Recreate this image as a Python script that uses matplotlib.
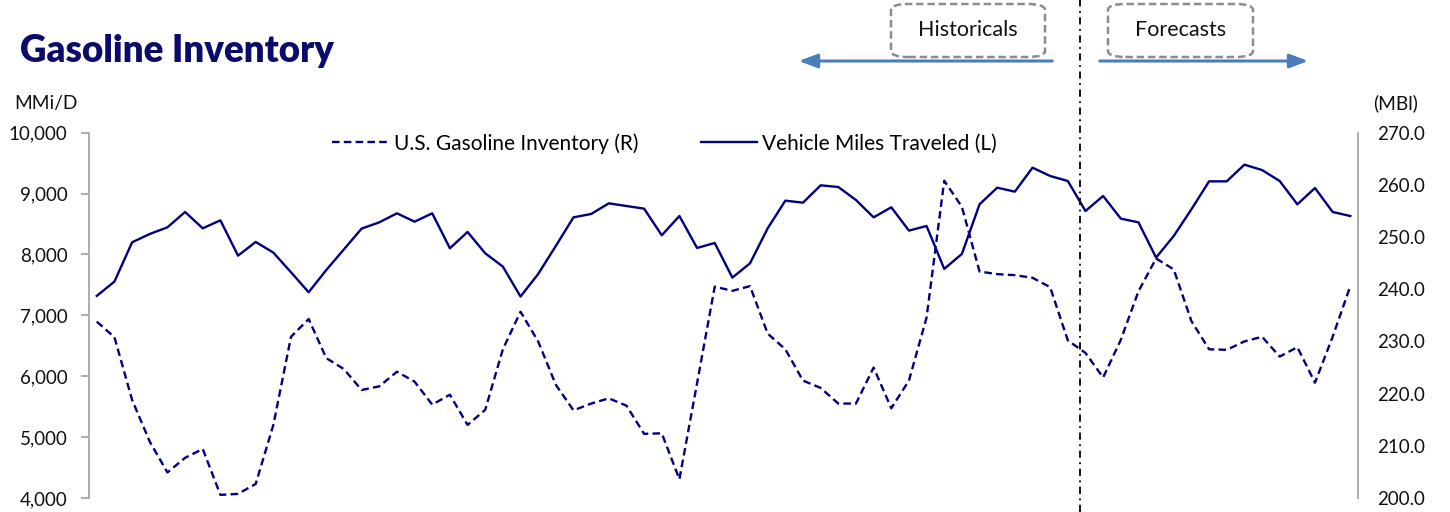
import matplotlib.pyplot as plt
from matplotlib.patches import FancyBboxPatch, FancyArrowPatch
from matplotlib.ticker import FuncFormatter
import matplotlib.transforms as mtransforms

plt.rcParams['font.family'] = ['Lato', 'DejaVu Sans']

# monthly points, 6 years
vmt = [7320, 7555, 8200, 8337, 8446, 8698, 8430, 8561, 7981, 8206,
       8031, 7708, 7380, 7746, 8085, 8425, 8528, 8676, 8539, 8676,
       8102, 8370, 8020, 7801, 7309, 7680, 8140, 8610, 8665, 8840,
       8796, 8753, 8315, 8632, 8107, 8189, 7620, 7856, 8430, 8884,
       8851, 9136, 9108, 8895, 8610, 8775, 8392, 8468, 7763, 8009,
       8824, 9097, 9032, 9426, 9289, 9207, 8714, 8961, 8589, 8528,
       7949, 8304, 8742, 9201, 9201, 9475, 9387, 9207, 8824, 9092,
       8698, 8632]
inventory = [233.8, 230.8, 218.8, 210.8, 204.9, 207.7, 209.4, 200.6, 200.8, 202.7,
             214.0, 230.9, 234.3, 226.8, 224.7, 220.7, 221.4, 224.2, 222.3, 217.9,
             219.8, 214.0, 216.9, 228.5, 235.7, 230.0, 221.7, 216.8, 218.1, 219.1,
             217.7, 212.3, 212.4, 203.6, 222.0, 240.5, 239.7, 240.6, 231.5, 228.5,
             222.5, 221.1, 218.1, 218.1, 225.0, 217.2, 222.5, 234.6, 260.8, 255.8,
             243.4, 242.9, 242.7, 242.2, 240.4, 230.2, 227.8, 223.1, 230.3, 239.6,
             245.9, 243.8, 233.9, 228.5, 228.4, 230.0, 230.9, 227.1, 228.9, 222.1,
             230.9, 240.6]
x = list(range(len(vmt)))
split_x = 55.7  # historicals / forecasts boundary

navy = '#00007f'
spine_gray = '#a6a6a6'

fig = plt.figure(figsize=(14.5, 5.12), dpi=100)
ax = fig.add_axes([0.0614, 0.0273, 0.8752, 0.7135])
ax2 = ax.twinx()

l2, = ax2.plot(x, inventory, color=navy, lw=1.7, ls=(0, (3.2, 1.8)),
               label='U.S. Gasoline Inventory (R)')
l1, = ax.plot(x, vmt, color=navy, lw=1.7, label='Vehicle Miles Traveled (L)')

ax.set_xlim(-0.44, 71.44)
ax.set_ylim(4000, 10000)
ax.set_yticks(range(4000, 10001, 1000))
ax.yaxis.set_major_formatter(FuncFormatter(lambda v, p: f'{v:,.0f}'))
ax2.set_ylim(200, 270)
ax2.set_yticks(range(200, 271, 10))
ax2.yaxis.set_major_formatter(FuncFormatter(lambda v, p: f'{v:.1f}'))

for a in (ax, ax2):
    for s in ('top', 'bottom'):
        a.spines[s].set_visible(False)
    a.set_xticks([])
ax.spines['right'].set_visible(False)
ax2.spines['left'].set_visible(False)
ax.spines['left'].set_color(spine_gray)
ax.spines['left'].set_linewidth(1.3)
ax2.spines['right'].set_color(spine_gray)
ax2.spines['right'].set_linewidth(1.3)
ax.tick_params(axis='y', length=5.5, width=1.3, color=spine_gray, pad=10,
               labelsize=13.5, labelcolor='#111111')
ax2.tick_params(axis='y', length=0, pad=14, labelsize=13.5, labelcolor='#111111')

# split line across the whole figure height
trans = mtransforms.blended_transform_factory(ax.transData, fig.transFigure)
ax.plot([split_x, split_x], [0, 1], transform=trans, color='black', lw=1.3,
        ls=(0, (4, 2.5, 1, 2.5)), clip_on=False)

ax.legend(handles=[l2, l1], loc='center left', bbox_to_anchor=(0.229, 0.72),
          bbox_transform=fig.transFigure, ncol=2, frameon=False,
          borderpad=0, borderaxespad=0,
          fontsize=15, handlelength=2.7, handletextpad=0.25, columnspacing=3.0)

fig.text(0.014, 0.901, 'Gasoline Inventory', fontsize=26.5, fontweight='heavy',
         color='#0b0b6b', va='center', ha='left')
fig.text(0.0095, 0.798, 'MMi/D', fontsize=13.8, va='center', ha='left', color='#111111')
fig.text(0.947, 0.798, '(MBl)', fontsize=13.8, va='center', ha='left', color='#111111')

# labelled boxes and arrows
for (x0, x1, label) in [(891, 1045, 'Historicals'), (1108, 1253, 'Forecasts')]:
    box = FancyBboxPatch((x0 / 1450, 1 - 57 / 512), (x1 - x0) / 1450, 53 / 512,
                         boxstyle='round,pad=0,rounding_size=0.012',
                         transform=fig.transFigure, fill=False,
                         edgecolor='#8c8c8c', lw=1.8, ls=(0, (3, 1.5)))
    fig.add_artist(box)
    fig.text((x0 + x1) / 2 / 1450, 1 - 30 / 512, label, fontsize=15.5,
             ha='center', va='center', color='#111111')

arrow_kw = dict(arrowstyle='-|>,head_length=0.8,head_width=0.3', color='#4a7ebb', lw=2.2)
fig.add_artist(FancyArrowPatch(
    (1055 / 1450, 1 - 61 / 512), (796 / 1450, 1 - 61 / 512),
    transform=fig.transFigure, mutation_scale=14, **arrow_kw))
fig.add_artist(FancyArrowPatch(
    (1097 / 1450, 1 - 61 / 512), (1311 / 1450, 1 - 61 / 512),
    transform=fig.transFigure, mutation_scale=14, **arrow_kw))

fig.savefig('out.png', dpi=100)
